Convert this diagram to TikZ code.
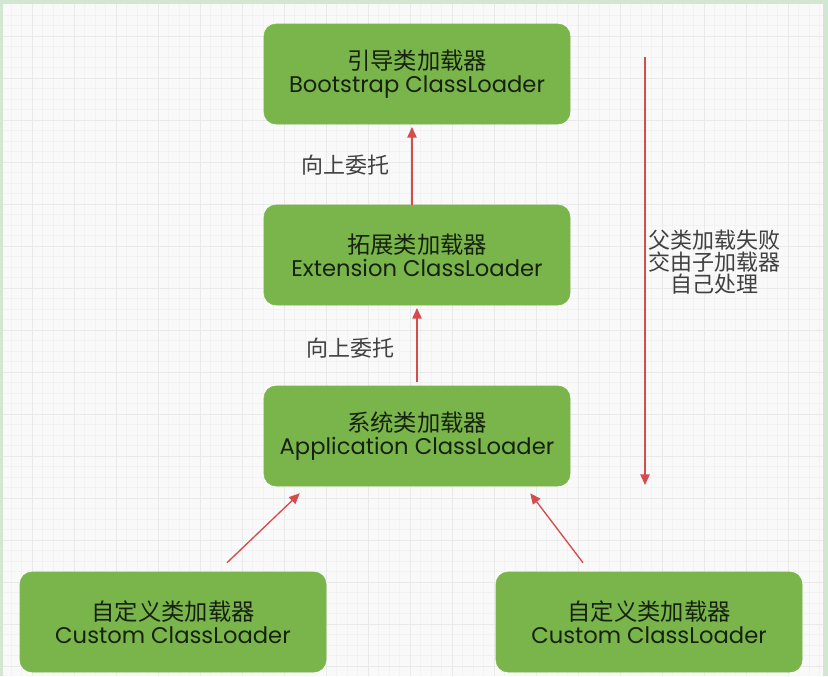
\documentclass[tikz,border=0pt]{standalone}
\usepackage{fontspec}
\setmainfont{Poppins}
\newfontfamily\cjk{Noto Sans CJK SC}
\usetikzlibrary{arrows.meta}
\usetikzlibrary{positioning}
\definecolor{boxgreen}{HTML}{7AB54B}
\definecolor{boxtext}{HTML}{16220F}
\definecolor{arrowred}{HTML}{D64B4B}
\definecolor{framegreen}{HTML}{D2E6D2}
\definecolor{paper}{HTML}{F9F9F9}
\definecolor{gridmajor}{HTML}{E9E9E9}
\definecolor{gridminor}{HTML}{F2F2F2}
% two lines of a loader box: chinese name, then english name
\newcommand{\ldrtext}[2]{{\cjk\fontsize{17.5}{17}\selectfont #1}\\#2}

\begin{document}
\begin{tikzpicture}[x=0.75pt,y=-0.75pt,>={Triangle[length=8pt,width=7pt]},
  loader/.style={draw=boxgreen, fill=boxgreen, rounded corners=9pt,
    minimum width=229.5pt, minimum height=75pt, inner sep=0pt,
    align=center, text=boxtext, font=\fontsize{17}{17}\selectfont},
  upward/.style={->, draw=arrowred, fill=arrowred, line width=1pt},
  note/.style={text=black!75, align=center, font=\cjk\fontsize{16.5}{16.5}\selectfont}]
    % paper, frame and grid
    \fill[framegreen] (0,0) rectangle (828,676);
    \fill[paper] (3,4) rectangle (823,676);
    \useasboundingbox (0,0) rectangle (828,676);
    \foreach \g in {11,21.5,...,823} \draw[gridminor,line width=0.4pt] (\g,4) -- (\g,676);
    \foreach \g in {15,25.5,...,676} \draw[gridminor,line width=0.4pt] (3,\g) -- (823,\g);
    \foreach \g in {32,74,...,823} \draw[gridmajor,line width=0.6pt] (\g,4) -- (\g,676);
    \foreach \g in {36,78,...,676} \draw[gridmajor,line width=0.6pt] (3,\g) -- (823,\g);

    % the loaders
    \node[loader] (boot) at (417,74) {\ldrtext{引导类加载器}{Bootstrap ClassLoader}};
    \node[loader] (ext) at (417,255) {\ldrtext{拓展类加载器}{Extension ClassLoader}};
    \node[loader] (app) at (417,436) {\ldrtext{系统类加载器}{Application ClassLoader}};
    \node[loader] (cusl) at (173,622) {\ldrtext{自定义类加载器}{Custom ClassLoader}};
    \node[loader] (cusr) at (649,622) {\ldrtext{自定义类加载器}{Custom ClassLoader}};

    % delegation upwards
    \draw[upward, shorten >=2pt] ([xshift=-3.75pt]ext.north) -- ([xshift=-3.75pt]boot.south);
    \draw[upward, shorten >=2pt] ([yshift=3pt]app.north) -- (ext.south);
    \draw[upward] ([xshift=40.5pt,yshift=6.75pt]cusl.north) -- ([xshift=27pt,yshift=-5.25pt]app.south west);
    \draw[upward] ([xshift=-49.5pt,yshift=6.75pt]cusr.north) -- ([xshift=-30pt,yshift=-5.25pt]app.south east);
    \node[note] (up1) at (345,165) {向上委托};
    \node[note] (up2) at (350,348) {向上委托};

    % failing parent hands back down
    \coordinate (failtop) at (645,57);
    \coordinate (failbot) at (645,485);
    \draw[upward] (failtop) -- (failbot);
    \node[note] (fail) at (714,262) {父类加载失败\\交由子加载器\\自己处理};
\end{tikzpicture}
\end{document}
